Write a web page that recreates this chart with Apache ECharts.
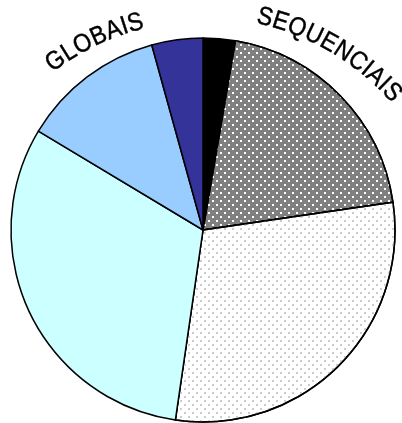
<!DOCTYPE html>
<html>
<head>
<meta charset="utf-8">
<script src="https://cdn.jsdelivr.net/npm/echarts@6/dist/echarts.min.js"></script>
<style>
  html, body { margin: 0; padding: 0; background: #fff; }
  #main { width: 402px; height: 423px; }
</style>
</head>
<body>
<div id="main"></div>
<script>
// slices, clockwise from 12 o'clock
var sliceNames = ['P1', 'SEQUENCIAIS', 'P3', 'P4', 'GLOBAIS', 'P6'];
var sliceValues = [2.7, 20.0, 29.6, 31.3, 12.1, 4.3];
var labelNames = ['SEQUENCIAIS', 'GLOBAIS'];

var sliceColors = ['#000000', '#808080', '#ffffff', '#ccffff', '#99ccff', '#333399'];
var dotDecal = function (col) {
  return {
    symbol: 'rect',
    symbolSize: 1,
    color: col,
    dashArrayX: [[2, 6], [0, 4, 2, 2]],
    dashArrayY: [2, 2],
    rotation: 0
  };
};
var sliceDecals = [null, dotDecal('#ffffff'), dotDecal('#cccccc'), null, null, null];

var cx = 203, cy = 230, R = 192;
var fontFamily = '"Liberation Sans", Arial, sans-serif';
var fontSize = 23;
// the curved words follow a flatter arc than the pie edge
var arcCx = 203, arcCy = 268;
// mid angle (deg, clockwise from top) and baseline radius
var labelPlace = { SEQUENCIAIS: [30.5, 245], GLOBAIS: [-25.6, 241] };

function arcText(text, midDeg, baseR) {
  var ctx = document.createElement('canvas').getContext('2d');
  ctx.font = fontSize + 'px ' + fontFamily;
  var chars = text.split('');
  var widths = chars.map(function (c) { return ctx.measureText(c).width; });
  var total = widths.reduce(function (a, b) { return a + b; }, 0);
  var a = midDeg * Math.PI / 180 - total / 2 / baseR;
  var els = [];
  chars.forEach(function (ch, i) {
    var ang = a + widths[i] / 2 / baseR;
    els.push({
      type: 'text',
      x: arcCx + baseR * Math.sin(ang),
      y: arcCy - baseR * Math.cos(ang),
      rotation: -ang,
      scaleY: 1.12,
      silent: true,
      style: {
        text: ch,
        fontSize: fontSize,
        fontFamily: fontFamily,
        fill: '#000',
        stroke: '#000',
        lineWidth: 0.4,
        textAlign: 'center',
        align: 'center',
        textVerticalAlign: 'bottom',
        verticalAlign: 'bottom'
      }
    });
    a += widths[i] / baseR;
  });
  return els;
}

var graphics = [];
labelNames.forEach(function (n) {
  graphics = graphics.concat(arcText(n, labelPlace[n][0], labelPlace[n][1]));
});

var chart = echarts.init(document.getElementById('main'));
var option = {
  animation: false,
  backgroundColor: '#ffffff',
  graphic: graphics,
  series: [{
    type: 'pie',
    center: [cx, cy],
    radius: R,
    startAngle: 90,
    clockwise: true,
    silent: true,
    label: { show: false },
    labelLine: { show: false },
    itemStyle: { borderColor: '#000', borderWidth: 1.5 },
    data: sliceValues.map(function (v, i) {
      var st = { color: sliceColors[i] };
      if (sliceDecals[i]) st.decal = sliceDecals[i];
      return { name: sliceNames[i], value: v, itemStyle: st };
    })
  }]
};
chart.setOption(option);
</script>
</body>
</html>
